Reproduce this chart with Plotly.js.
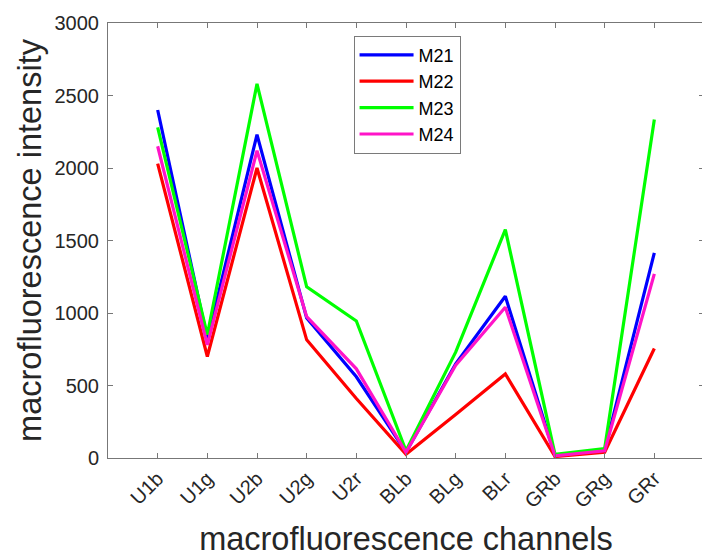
<!DOCTYPE html>
<html>
<head>
<meta charset="utf-8">
<script src="https://cdn.plot.ly/plotly-3.0.1.min.js"></script>
<style>html,body{margin:0;padding:0;overflow:hidden;background:#fff;}#chart{width:710px;height:557px;}</style>
</head>
<body>
<div id="chart"></div>
<script>
const channels = ["U1b","U1g","U2b","U2g","U2r","BLb","BLg","BLr","GRb","GRg","GRr"];
const seriesNames = ["M21","M22","M23","M24"];
const M21 = [2400, 820, 2230, 965, 560, 40, 650, 1115, 15, 55, 1415];
const M22 = [2030, 700, 2000, 815, 410, 25, 300, 580, 10, 40, 755];
const M23 = [2280, 850, 2580, 1180, 945, 50, 730, 1575, 25, 65, 2335];
const M24 = [2150, 780, 2120, 975, 615, 40, 640, 1040, 15, 50, 1270];
const colors = ["#0000ff","#ff0000","#00ff00","#ff14c8"];
const yTicks = [0,500,1000,1500,2000,2500,3000];

const xIdx = channels.map((c,i)=>i+1);
const data = [M21,M22,M23,M24].map((v,k)=>({
  x: xIdx, y: v, type:'scatter', mode:'lines', name: seriesNames[k],
  line:{color:colors[k], width:3.2}
}));

const font = "Arial, 'Liberation Sans', sans-serif";
const layout = {
  width:710, height:557,
  margin:{l:108, r:6, t:23, b:99},
  paper_bgcolor:'#fff', plot_bgcolor:'#fff',
  font:{family:font, color:'#262626'},
  showlegend:true,
  legend:{x:0.412, y:0.971, xanchor:'left', yanchor:'top', bgcolor:'#fff',
    bordercolor:'#7a7a7a', borderwidth:1, font:{size:18, color:'#000', family:font},
    tracegroupgap:0, itemwidth:54},
  xaxis:{range:[0,12], tickvals:xIdx, ticktext:channels, tickangle:-45,
    ticks:'inside', ticklen:5, tickcolor:'#777', showline:true, linecolor:'#777', linewidth:1,
    mirror:'ticks', showgrid:false, zeroline:false, tickfont:{size:20, color:'#262626'},
    title:{text:'macrofluorescence channels', font:{size:32.5, color:'#262626'}, standoff:18}},
  yaxis:{range:[0,3000], tickvals:yTicks, ticks:'inside', ticklen:5, tickcolor:'#777',
    showline:true, linecolor:'#777', linewidth:1, mirror:'ticks', showgrid:false, zeroline:false,
    tickfont:{size:20, color:'#262626'}, ticklabelstandoff:4,
    title:{text:'macrofluorescence intensity', font:{size:32.5, color:'#262626'}, standoff:3}}
};
Plotly.newPlot('chart', data, layout, {displayModeBar:false, staticPlot:true});
</script>
</body>
</html>
